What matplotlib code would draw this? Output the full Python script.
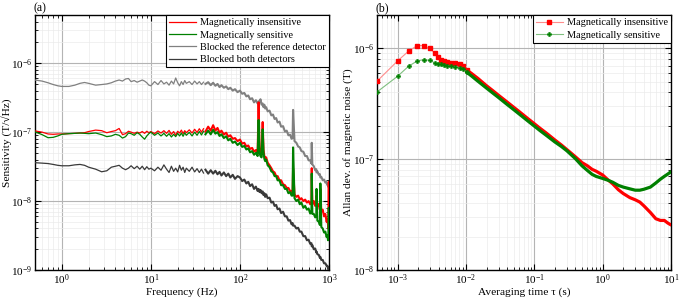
import numpy as np
import matplotlib
matplotlib.use("Agg")
import matplotlib.pyplot as plt
from matplotlib.ticker import NullFormatter

plt.rcParams['font.family'] = ['Liberation Serif', 'DejaVu Serif']
plt.rcParams['mathtext.fontset'] = 'custom'
plt.rcParams['mathtext.rm'] = 'Liberation Serif'
plt.rcParams['mathtext.it'] = 'Liberation Serif:italic'

# ---------------- Panel (a): noise spectra ----------------
freq = [0.5, 0.6, 0.7, 0.8, 0.9, 1.0, 1.2, 1.4, 1.6, 1.8, 2.0, 2.4, 2.8, 3.2, 3.6, 4.0, 4.4, 4.8,
        5.2, 5.6, 6.0, 6.5, 7.0, 7.5, 8.0, 8.5, 9.0, 9.5,
        10, 11, 12, 13, 14, 15, 16, 17, 18, 19, 20, 21, 22, 23, 24, 25, 27, 29, 31, 33, 35, 37,
        39, 41, 44, 47, 50, 53, 56, 59, 62, 66, 70, 74, 78, 83, 88, 94,
        100, 106, 112, 118, 124, 130, 137, 144, 151, 158, 162, 166, 170, 175, 180, 184, 188, 192,
        197, 205, 215, 225, 235, 245, 255, 265, 278, 290, 305, 320, 335, 350, 365, 380, 390, 395,
        410, 430, 450, 470, 490, 515, 540, 565, 590, 615, 635, 640, 650, 675, 700, 720, 725, 740,
        770, 790, 800, 820, 850, 880, 910, 940, 960, 975, 985, 995, 1000]

# Magnetically insensitive (x1e-7 T/sqrt(Hz))
red_spec = [1.04, 1.0, 0.94, 0.93, 0.94, 0.94, 0.95, 0.96, 0.97, 0.98, 1.02, 1.07, 1.05, 0.98, 1.02,
            1.05, 1.13, 0.92, 0.95, 1.03, 1.0, 0.96, 1.0, 0.97, 1.02, 0.96, 1.03, 0.98,
            1.02, 0.95, 1.04, 0.97, 1.05, 0.96, 1.06, 0.93, 1.02, 0.9, 1.03, 0.97, 1.07, 0.95, 1.05,
            0.98, 1.08, 0.97, 1.1, 0.99, 1.12, 1.0, 1.12, 1.02, 1.2, 1.05, 1.26, 1.05, 1.15, 0.98,
            1.05, 0.92, 0.98, 0.86, 0.9, 0.8, 0.82, 0.74,
            0.78, 0.68, 0.7, 0.62, 0.64, 0.57, 0.59, 0.52, 0.55, 0.5, 2.7, 0.6, 0.5, 0.48, 1.4, 0.55,
            0.45, 0.42, 0.43, 0.36, 0.33, 0.3, 0.27, 0.26, 0.23, 0.23, 0.2, 0.2, 0.175, 0.17, 0.155,
            0.155, 0.14, 0.14, 0.125, 0.3, 0.125, 0.115, 0.12, 0.105, 0.11, 0.1, 0.105, 0.095, 0.1,
            0.09, 0.1, 0.3, 0.09, 0.1, 0.085, 0.095, 0.12, 0.085, 0.09, 0.075, 0.15, 0.07, 0.075,
            0.06, 0.065, 0.05, 0.055, 0.045, 0.04, 0.19, 0.04]

# Magnetically sensitive (x1e-7)
green_spec = [1.01, 0.92, 0.83, 0.84, 0.88, 0.93, 0.95, 0.96, 0.97, 0.96, 0.95, 0.97, 0.92, 0.86,
              0.88, 0.93, 0.9, 0.82, 0.86, 0.97, 0.95, 0.9, 0.98, 0.93, 0.85, 0.79, 0.88, 0.95,
              1.0, 0.9, 0.97, 0.88, 0.96, 0.87, 0.95, 0.85, 0.93, 0.86, 0.96, 0.88, 0.97, 0.87, 0.98,
              0.9, 0.99, 0.88, 1.0, 0.9, 1.02, 0.91, 1.03, 0.93, 1.05, 0.93, 1.08, 0.95, 1.0, 0.88,
              0.93, 0.82, 0.87, 0.76, 0.8, 0.7, 0.73, 0.65,
              0.7, 0.61, 0.63, 0.56, 0.58, 0.51, 0.53, 0.47, 0.5, 0.45, 1.5, 0.5, 0.45, 0.43, 1.1, 0.5,
              0.41, 0.38, 0.4, 0.33, 0.31, 0.27, 0.26, 0.23, 0.23, 0.2, 0.2, 0.17, 0.17, 0.15, 0.15,
              0.13, 0.135, 0.12, 0.12, 0.6, 0.11, 0.1, 0.105, 0.09, 0.095, 0.08, 0.085, 0.075, 0.078,
              0.066, 0.07, 0.25, 0.065, 0.065, 0.058, 0.06, 0.15, 0.052, 0.05, 0.045, 0.18, 0.042,
              0.04, 0.035, 0.036, 0.03, 0.032, 0.027, 0.03, 0.08, 0.03]

# Blocked the reference detector (x1e-7)
gray_spec = [5.7, 5.5, 5.2, 4.9, 4.7, 4.6, 4.6, 4.8, 5.1, 5.25, 5.1, 4.8, 4.9, 5.0, 5.2, 5.5, 5.7,
             5.5, 5.9, 6.0, 5.4, 5.6, 5.3, 5.5, 5.7, 5.5, 5.2, 4.8,
             4.7, 5.4, 4.9, 5.6, 5.0, 5.3, 4.8, 5.5, 5.0, 6.1, 5.2, 4.7, 5.4, 4.9, 5.6, 5.1, 5.4,
             4.9, 5.5, 5.0, 5.4, 4.9, 5.3, 5.0, 5.3, 4.8, 5.2, 4.7, 5.0, 4.5, 4.8, 4.4, 4.6, 4.2,
             4.4, 4.0, 4.2, 3.8,
             4.0, 3.6, 3.7, 3.3, 3.4, 3.0, 3.1, 2.7, 2.9, 2.6, 2.8, 2.7, 3.0, 2.5, 2.6, 2.3, 2.5,
             2.2, 2.3, 2.0, 2.05, 1.75, 1.8, 1.55, 1.6, 1.38, 1.42, 1.2, 1.22, 1.02, 1.05, 0.9,
             0.92, 0.8, 0.82, 2.1, 0.74, 0.7, 0.62, 0.6, 0.53, 0.52, 0.45, 0.45, 0.39, 0.39, 0.35,
             0.7, 0.34, 0.32, 0.28, 0.29, 0.26, 0.27, 0.24, 0.245, 0.22, 0.225, 0.2, 0.205, 0.185,
             0.19, 0.17, 0.175, 0.16, 0.17, 0.16]

# Blocked both detectors (x1e-8)
black_spec = [3.6, 3.55, 3.5, 3.4, 3.3, 3.25, 3.25, 3.35, 3.4, 3.3, 3.1, 2.9, 2.66, 2.75, 3.1,
              3.2, 3.3, 3.0, 2.85, 3.0, 3.25, 2.95, 3.2, 2.9, 3.2, 2.85, 3.15, 2.9,
              3.0, 2.75, 3.1, 2.8, 3.35, 2.9, 2.6, 3.2, 2.7, 3.0, 2.65, 3.3, 2.8, 3.1, 2.6, 3.0,
              2.7, 3.1, 2.65, 2.95, 2.6, 2.9, 2.55, 2.85, 2.5, 2.8, 2.5, 2.75, 2.45, 2.65, 2.35,
              2.6, 2.3, 2.5, 2.2, 2.4, 2.1, 2.3,
              2.2, 1.95, 2.05, 1.8, 1.9, 1.65, 1.75, 1.5, 1.62, 1.4, 1.5, 1.35, 1.45, 1.3, 1.38,
              1.22, 1.3, 1.15, 1.25, 1.1, 1.12, 0.95, 0.98, 0.85, 0.88, 0.76, 0.78, 0.67, 0.7, 0.6,
              0.6, 0.52, 0.53, 0.46, 0.48, 0.44, 0.44, 0.4, 0.41, 0.36, 0.36, 0.31, 0.31, 0.27,
              0.275, 0.24, 0.245, 0.22, 0.23, 0.2, 0.205, 0.18, 0.185, 0.17, 0.165, 0.15, 0.155,
              0.14, 0.14, 0.125, 0.125, 0.115, 0.115, 0.105, 0.11, 0.1, 0.105]

spec_labels = ["Magnetically insensitive", "Magnetically sensitive",
               "Blocked the reference detector", "Blocked both detectors"]

# ---------------- Panel (b): Allan deviation ----------------
tau = [5e-4, 1e-3, 1.45e-3, 1.94e-3, 2.4e-3, 2.95e-3, 3.5e-3, 3.9e-3, 4.3e-3, 4.7e-3, 5.3e-3,
       6.1e-3, 7.0e-3, 8.1e-3, 9.1e-3,
       0.0102, 0.012, 0.015, 0.02, 0.025, 0.03, 0.04, 0.05, 0.06, 0.08, 0.1, 0.12, 0.15, 0.2,
       0.25, 0.3, 0.4, 0.5, 0.6, 0.7, 0.8, 1.0, 1.2, 1.4, 1.7, 2.0, 2.5, 3.0, 3.5, 4.0, 5.0,
       6.0, 7.0, 8.0, 9.0, 10.0]
# (x1e-7 T)
allan_insens = [5.05, 7.7, 9.45, 10.6, 10.6, 10.0, 9.0, 8.35, 7.9, 7.7, 7.5, 7.4, 7.4, 7.3, 6.9,
                6.4, 5.95, 5.35, 4.6, 4.13, 3.77, 3.28, 2.94, 2.69, 2.33, 2.09, 1.91, 1.72, 1.49,
                1.34, 1.22, 1.05, 0.93, 0.87, 0.81, 0.78, 0.72, 0.65, 0.6, 0.53, 0.49, 0.45, 0.43,
                0.41, 0.38, 0.33, 0.29, 0.28, 0.28, 0.265, 0.255]
allan_sens = [4.04, 5.6, 6.9, 7.7, 7.9, 7.8, 7.4, 7.3, 7.17, 7.1, 7.0, 6.9, 6.8, 6.7, 6.56,
              6.1, 5.65, 5.05, 4.38, 3.93, 3.6, 3.12, 2.8, 2.56, 2.22, 1.99, 1.82, 1.64, 1.43,
              1.3, 1.19, 1.01, 0.87, 0.79, 0.73, 0.7, 0.67, 0.645, 0.62, 0.58, 0.56, 0.54, 0.525,
              0.525, 0.535, 0.56, 0.61, 0.66, 0.7, 0.735, 0.77]
allan_labels = ["Magnetically insensitive", "Magnetically sensitive"]
n_sparse = 16  # points drawn with individual markers
f_dense = 40   # above this frequency the spectra are drawn as a denser band

RED, GREEN, GRAY, DARK = '#ff0000', '#008000', '#808080', '#3a3a3a'
LEG_FS = 7.4
LAB_FS = 8.2
TICK_FS = 8.0

fig = plt.figure(figsize=(6.85, 3.0), dpi=100)
ax1 = fig.add_axes([35/685, 30/300, 294/685, 255/300])
ax2 = fig.add_axes([377/685, 30/300, 294/685, 255/300])

f = np.array(freq)
lo = f <= f_dense
hi = f >= f_dense
series = [(np.array(red_spec)*1e-7, RED, 4), (np.array(green_spec)*1e-7, GREEN, 5),
          (np.array(gray_spec)*1e-7, GRAY, 3), (np.array(black_spec)*1e-8, DARK, 3)]
for (vals, col, z), lab in zip(series, spec_labels):
    ax1.plot(f[lo], vals[lo], color=col, lw=0.9, label=lab, zorder=z)
    ax1.plot(f[hi], vals[hi], color=col, lw=1.5, zorder=z)
ax1.set_xscale('log'); ax1.set_yscale('log')
ax1.set_xlim(0.5, 1000); ax1.set_ylim(1e-9, 5e-6)
ax1.set_xlabel('Frequency (Hz)', fontsize=LAB_FS, labelpad=0)
ax1.set_ylabel('Sensitivity (T/√Hz)', fontsize=LAB_FS)
ax1.yaxis.set_label_coords(-22/294, 0.5)
leg1 = ax1.legend(loc='upper right', borderaxespad=0, fontsize=LEG_FS, fancybox=False,
                  framealpha=1, edgecolor='black', handlelength=2.6, borderpad=0.3,
                  labelspacing=0.3, handletextpad=0.4)
leg1.get_frame().set_linewidth(0.8)

t = np.array(tau)
ri = np.array(allan_insens)*1e-7
gs = np.array(allan_sens)*1e-7
ax2.plot(t[:n_sparse], ri[:n_sparse], color='#ff8c8c', lw=0.8, marker='s', ms=2.6,
         mec=RED, mfc=RED, label=allan_labels[0], zorder=4)
ax2.plot(t[:n_sparse], gs[:n_sparse], color='#7fbf7f', lw=0.8, marker='P', ms=3.2,
         mec=GREEN, mfc=GREEN, mew=0.3, label=allan_labels[1], zorder=5)
ax2.plot(t[n_sparse-1:], ri[n_sparse-1:], color=RED, lw=2.3, zorder=4, solid_capstyle='round')
ax2.plot(t[n_sparse-1:], gs[n_sparse-1:], color=GREEN, lw=2.3, zorder=5, solid_capstyle='round')
ax2.set_xscale('log'); ax2.set_yscale('log')
ax2.set_xlim(5e-4, 10); ax2.set_ylim(1e-8, 2e-6)
ax2.set_xlabel('Averaging time τ (s)', fontsize=LAB_FS, labelpad=0)
ax2.set_ylabel('Allan dev. of magnetic noise (T)', fontsize=LAB_FS)
ax2.yaxis.set_label_coords(-24/294, 0.5)
leg2 = ax2.legend(loc='upper right', borderaxespad=0, fontsize=LEG_FS, fancybox=False,
                  framealpha=1, edgecolor='black', handlelength=2.6, borderpad=0.3,
                  labelspacing=0.3, handletextpad=0.4)
leg2.get_frame().set_linewidth(0.8)

for ax in (ax1, ax2):
    ax.grid(True, which='major', color='#b4b4b4', lw=0.8)
    ax.grid(True, which='minor', color='#ebebeb', lw=0.5)
    ax.set_axisbelow(True)
    ax.xaxis.set_minor_formatter(NullFormatter())
    ax.yaxis.set_minor_formatter(NullFormatter())
    ax.tick_params(which='both', direction='in', top=True, right=True, labelsize=TICK_FS)
    ax.tick_params(which='major', length=4, width=0.8)
    ax.tick_params(which='minor', length=2, width=0.6)
    ax.tick_params(axis='x', pad=2)
    ax.tick_params(axis='y', pad=2)
    for s in ax.spines.values():
        s.set_linewidth(1.0)

fig.text(33/685, 1-8/300, '(a)', fontsize=8.5, ha='left', va='center')
fig.text(376/685, 1-8/300, '(b)', fontsize=8.5, ha='left', va='center')

fig.savefig('out.png', dpi=100)
